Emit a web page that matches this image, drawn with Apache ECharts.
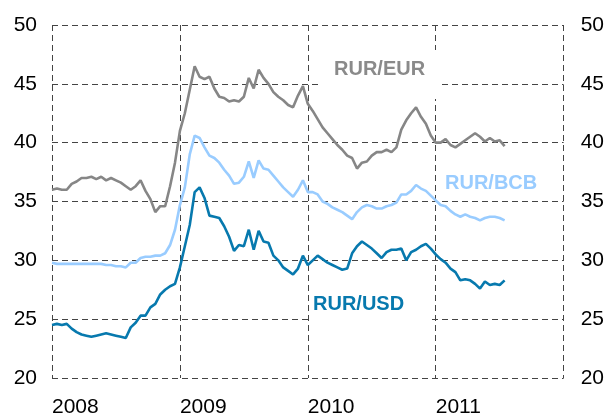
<!DOCTYPE html>
<html>
<head>
<meta charset="utf-8">
<script src="https://cdn.jsdelivr.net/npm/echarts@6/dist/echarts.min.js"></script>
<style>
  html, body { margin: 0; padding: 0; background: #fff; }
  #chart { width: 607px; height: 418px; }
</style>
</head>
<body>
<div id="chart"></div>
<script>
// biweekly observations, starting Jan 2008
const startYear = 2008
const stepYear = 1 / 26
const yearTicks = [2008, 2009, 2010, 2011]

const rurEur = [
  36.0, 36.1, 36.0, 36.0, 36.5, 36.7, 37.0, 37.0, 37.1, 36.9,
  37.1, 36.8, 37.0, 36.8, 36.6, 36.3, 36.0, 36.3, 36.8, 35.9,
  35.2, 34.1, 34.6, 34.6, 36.3, 38.3, 41.0, 42.5, 44.5, 46.5,
  45.6, 45.4, 45.6, 44.6, 43.9, 43.8, 43.5, 43.6, 43.5, 43.9,
  45.5, 44.6, 46.2, 45.5, 45.0, 44.3, 43.9, 43.6, 43.2, 43.0,
  44.0, 44.8, 43.3, 42.7, 42.0, 41.3, 40.8, 40.3, 39.8, 39.4,
  38.9, 38.7, 37.8, 38.3, 38.4, 38.9, 39.2, 39.2, 39.4, 39.2,
  39.6, 41.1, 41.9, 42.5, 43.0, 42.2, 41.6, 40.6, 40.0, 40.0,
  40.3, 39.8, 39.6, 39.9, 40.2, 40.5, 40.8, 40.5, 40.1, 40.4,
  40.1, 40.2, 39.7
]
const rurBcb = [
  29.8, 29.7, 29.7, 29.7, 29.7, 29.7, 29.7, 29.7, 29.7, 29.7,
  29.7, 29.6, 29.6, 29.5, 29.5, 29.4, 29.8, 29.8, 30.2, 30.3,
  30.3, 30.4, 30.4, 30.6, 31.3, 32.6, 34.7, 36.2, 39.0, 40.6,
  40.4, 39.6, 38.9, 38.7, 38.3, 37.7, 37.2, 36.5, 36.6, 37.1,
  38.4, 37.0, 38.5, 37.8, 37.7, 37.2, 36.7, 36.2, 35.8, 35.4,
  36.0, 36.8, 35.8, 35.8, 35.6, 35.0, 34.8, 34.5, 34.3, 34.1,
  33.8, 33.5, 34.1, 34.5, 34.7, 34.6, 34.4, 34.4, 34.6, 34.7,
  34.9, 35.6, 35.6, 35.9, 36.4, 36.1, 35.9, 35.5, 35.1, 34.7,
  34.6, 34.2, 33.9, 33.7, 33.9, 33.7, 33.6, 33.4, 33.6, 33.7,
  33.7, 33.6, 33.4
]
const rurUsd = [
  24.5, 24.6, 24.5, 24.6, 24.2, 23.9, 23.7, 23.6, 23.5, 23.6,
  23.7, 23.8, 23.7, 23.6, 23.5, 23.4, 24.3, 24.7, 25.3, 25.3,
  26.0, 26.3, 27.1, 27.5, 27.8, 28.0, 29.4, 31.2, 33.0, 35.8,
  36.2, 35.3, 33.8, 33.7, 33.6, 32.9, 32.0, 30.8, 31.3, 31.2,
  32.6, 30.9, 32.5, 31.6, 31.5, 30.4, 30.0, 29.4, 29.1, 28.8,
  29.3, 30.4, 29.6, 30.0, 30.4, 30.1, 29.8, 29.6, 29.4, 29.2,
  29.3, 30.6, 31.2, 31.6, 31.3, 31.0, 30.6, 30.2, 30.7, 30.9,
  30.9, 31.0, 30.0, 30.7, 30.9, 31.2, 31.4, 31.0, 30.5, 30.1,
  29.8, 29.3, 29.0, 28.3, 28.4, 28.3, 28.0, 27.6, 28.2, 27.9,
  28.0, 27.9, 28.3
]

const seriesList = [
  { name: 'RUR/EUR', color: '#868686', data: rurEur },
  { name: 'RUR/BCB', color: '#99ccff', data: rurBcb },
  { name: 'RUR/USD', color: '#0779ae', data: rurUsd }
]

const gridLine = { lineStyle: { color: '#444', width: 1, type: [6, 4] } }
const tickFont = { color: '#000', fontSize: 21, fontFamily: 'Liberation Sans, Arial, sans-serif' }

function toPairs(values) {
  return values.map((v, i) => [startYear + i * stepYear, v])
}

// white text boxes, like the original's labels
function labelBox(text, color, box, textPos) {
  return {
    type: 'group',
    children: [
      {
        type: 'rect',
        z: 1,
        shape: box,
        style: { fill: '#fff' }
      },
      {
        type: 'text',
        z: 5,
        left: textPos[0],
        top: textPos[1],
        style: {
          text: text,
          fill: color,
          font: 'bold 20px "Liberation Sans", Arial, sans-serif'
        }
      }
    ]
  }
}

const chartOption = {
  animation: false,
  grid: { left: 52, right: 42, top: 25, bottom: 40 },
  xAxis: {
    type: 'value',
    min: 2008,
    max: 2012,
    interval: 1,
    axisLine: { show: false },
    axisTick: { show: false },
    splitLine: Object.assign({ show: true }, gridLine),
    axisLabel: Object.assign({
      align: 'left',
      margin: 19,
      showMaxLabel: false,
      formatter: v => (yearTicks.indexOf(v) >= 0 ? String(v) : '')
    }, tickFont)
  },
  yAxis: [
    {
      type: 'value',
      min: 20,
      max: 50,
      interval: 5,
      axisLine: { show: false },
      axisTick: { show: false },
      splitLine: Object.assign({ show: true }, gridLine),
      axisLabel: Object.assign({ margin: 15 }, tickFont)
    },
    {
      type: 'value',
      position: 'right',
      min: 20,
      max: 50,
      interval: 5,
      axisLine: { show: false },
      axisTick: { show: false },
      splitLine: { show: false },
      axisLabel: Object.assign({ margin: 17 }, tickFont)
    }
  ],
  graphic: [
    labelBox('RUR/EUR', '#8a8a8a', { x: 320, y: 50, width: 118, height: 49 }, [334, 59]),
    labelBox('RUR/BCB', '#99ccff', { x: 440, y: 172, width: 0, height: 0 }, [445, 173]),
    labelBox('RUR/USD', '#0779ae', { x: 310, y: 286, width: 118, height: 40 }, [313, 294])
  ],
  series: []
}

seriesList.forEach(item => {
  chartOption.series.push({
    name: item.name,
    type: 'line',
    yAxisIndex: 0,
    showSymbol: false,
    symbol: 'none',
    smooth: false,
    lineStyle: { color: item.color, width: 2.6 },
    data: toPairs(item.data)
  })
})

const chartObj = echarts.init(document.getElementById('chart'))
chartObj.setOption(chartOption, true)
</script>
</body>
</html>
